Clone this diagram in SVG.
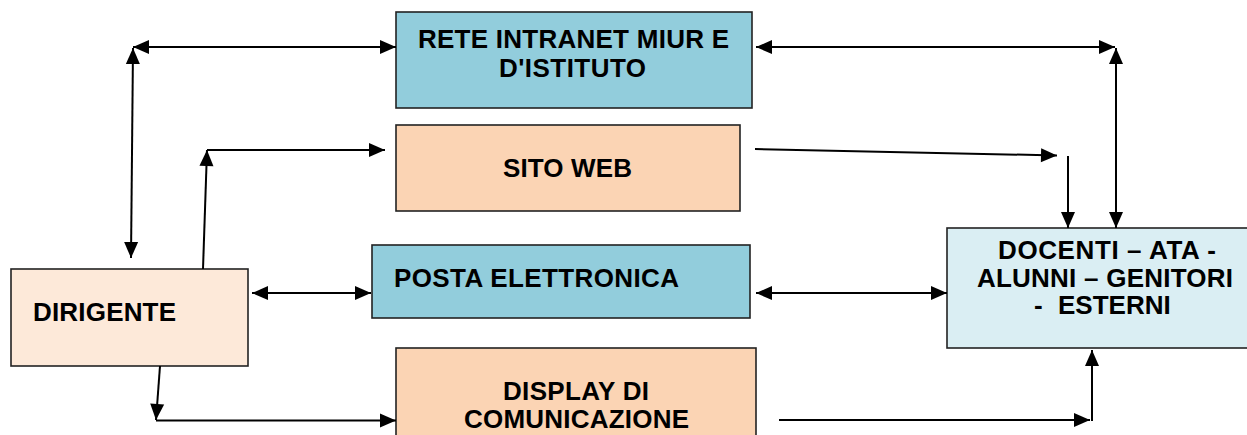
<svg xmlns="http://www.w3.org/2000/svg" width="1247" height="435" viewBox="0 0 1247 435">
<style>
.box{stroke:#222;stroke-width:1.6}
.blue{fill:#92CDDC}
.peach{fill:#FBD4B4}
.light{fill:#FDE9D9}
.pale{fill:#DAEEF3}
.t{font-family:"Liberation Sans",Arial,sans-serif;font-weight:bold;font-size:26px;fill:#000}
.c{fill:none;stroke:#000;stroke-width:2}
</style>
<defs>
<marker id="ah" markerUnits="userSpaceOnUse" markerWidth="18" markerHeight="16" viewBox="0 0 18 16" refX="17" refY="8" orient="auto-start-reverse">
<path d="M1,1 L17,8 L1,15 Z" fill="#000"/>
</marker>
</defs>
<rect width="1247" height="435" fill="#fff"/>
<g id="rete">
<rect class="box blue" x="396" y="12" width="356" height="96"/>
<text class="t" x="418" y="47.5" textLength="311" lengthAdjust="spacing">RETE INTRANET MIUR E</text>
<text class="t" x="499" y="77" textLength="147" lengthAdjust="spacing">D'ISTITUTO</text>
</g>
<g id="sito">
<rect class="box peach" x="396" y="125" width="344" height="86"/>
<text class="t" x="503" y="177" textLength="129" lengthAdjust="spacing">SITO WEB</text>
</g>
<g id="posta">
<rect class="box blue" x="372" y="245" width="378" height="73"/>
<text class="t" x="394" y="287" textLength="285" lengthAdjust="spacing">POSTA ELETTRONICA</text>
</g>
<g id="dirigente">
<rect class="box light" x="11" y="269" width="237" height="97"/>
<text class="t" x="33" y="321" textLength="143" lengthAdjust="spacing">DIRIGENTE</text>
</g>
<g id="display">
<rect class="box peach" x="396" y="348" width="360" height="100"/>
<text class="t" x="503" y="400" textLength="146" lengthAdjust="spacing">DISPLAY DI</text>
<text class="t" x="464" y="428" textLength="225" lengthAdjust="spacing">COMUNICAZIONE</text>
</g>
<g id="docenti">
<rect class="box pale" x="947" y="228" width="310" height="120"/>
<text class="t" x="998" y="259" textLength="218" lengthAdjust="spacing">DOCENTI – ATA -</text>
<text class="t" x="977" y="287" textLength="256" lengthAdjust="spacing">ALUNNI – GENITORI</text>
<text class="t" x="1034" y="314">-<tspan x="1058">ESTERNI</tspan></text>
</g>
<g id="connectors">
<line class="c" x1="133" y1="47" x2="396" y2="47" marker-start="url(#ah)" marker-end="url(#ah)"/>
<line class="c" x1="133" y1="48" x2="131" y2="258" marker-start="url(#ah)" marker-end="url(#ah)"/>
<line class="c" x1="203" y1="269" x2="207" y2="150" marker-end="url(#ah)"/>
<line class="c" x1="207" y1="150" x2="385" y2="150" marker-end="url(#ah)"/>
<line class="c" x1="755" y1="149" x2="1057" y2="155.5" marker-end="url(#ah)"/>
<line class="c" x1="1068" y1="156" x2="1068" y2="228" marker-end="url(#ah)"/>
<line class="c" x1="756" y1="47" x2="1115" y2="47" marker-start="url(#ah)" marker-end="url(#ah)"/>
<line class="c" x1="1116" y1="48" x2="1116" y2="228" marker-start="url(#ah)" marker-end="url(#ah)"/>
<line class="c" x1="252" y1="293" x2="371" y2="293" marker-start="url(#ah)" marker-end="url(#ah)"/>
<line class="c" x1="756" y1="293" x2="947" y2="293" marker-start="url(#ah)" marker-end="url(#ah)"/>
<line class="c" x1="160" y1="366" x2="156" y2="420" marker-end="url(#ah)"/>
<line class="c" x1="156" y1="420.5" x2="396" y2="420.5" marker-end="url(#ah)"/>
<line class="c" x1="779" y1="420" x2="1090" y2="420" marker-end="url(#ah)"/>
<line class="c" x1="1092" y1="421" x2="1092" y2="350" marker-end="url(#ah)"/>
</g>
</svg>
